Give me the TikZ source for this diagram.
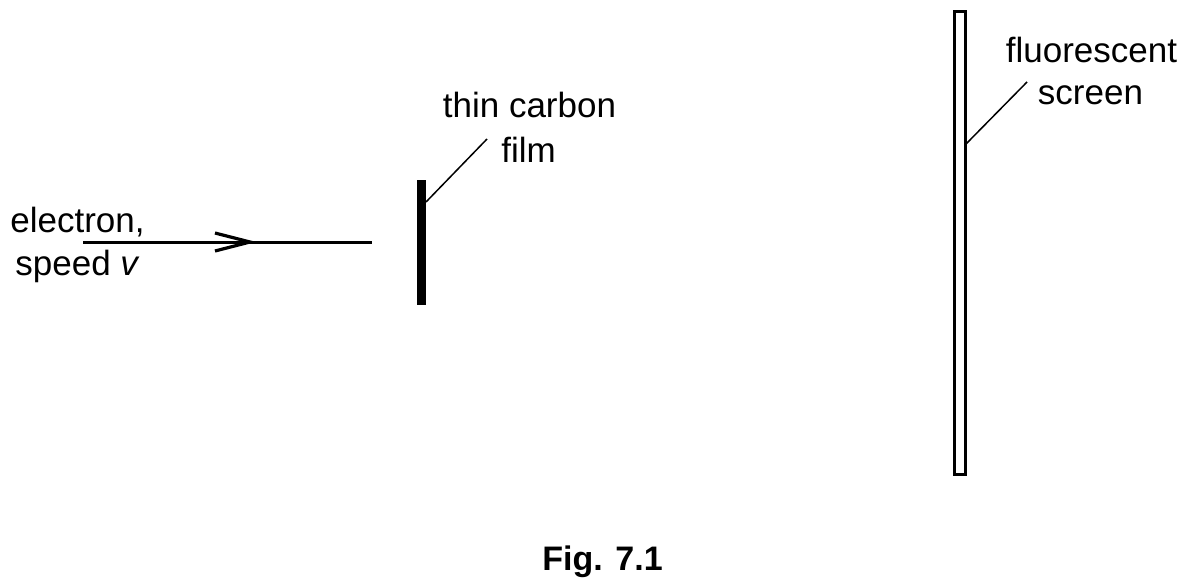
\documentclass[tikz,border=0pt]{standalone}
\usepackage{fontspec}
\setmainfont{Liberation Sans}
\begin{document}
\begin{tikzpicture}[x=1pt,y=-1pt,
  lbl/.style={anchor=base,inner sep=0pt,font=\fontsize{35}{44}\selectfont},
  leader/.style={line width=1.5pt},
  beam/.style={line width=3pt}]
\useasboundingbox (0,0) rectangle (1188,587);
% electron beam
\coordinate (bstart) at (83,242);
\coordinate (bend) at (372,242);
\coordinate (tip) at (250,242);
\draw[beam] (bstart) -- (bend);
\draw[line width=3.2pt,line join=miter] (tip) ++(-35,-9) -- (tip) -- ++(-35,9);
\node[lbl] (e1) at (77.5,232) {electron,};
\node[lbl] (e2) at (77.5,275) {speed \textit{v}};
% thin carbon film
\node[fill=black,inner sep=0pt,minimum width=9pt,minimum height=125pt] (film) at (421.5,242.5) {};
\coordinate (filmpt) at (426,202);
\coordinate (filmlead) at (487,139);
\draw[leader] (filmpt) -- (filmlead);
\node[lbl] (f1) at (529.5,117) {thin carbon};
\node[lbl] (f2) at (528.5,162) {film};
% fluorescent screen
\node[draw=black,line width=3pt,inner sep=0pt,minimum width=11pt,minimum height=463pt] (screen) at (960,243) {};
\coordinate (scrpt) at (966,144);
\coordinate (scrlead) at (1027,82);
\draw[leader] (scrpt) -- (scrlead);
\node[lbl] (s1) at (1091.5,62) {fluorescent};
\node[lbl] (s2) at (1090.5,104) {screen};
% caption
\node[lbl,font=\fontsize{34}{40}\selectfont\bfseries] (cap) at (602.5,570) {Fig. 7.1};
\end{tikzpicture}
\end{document}
